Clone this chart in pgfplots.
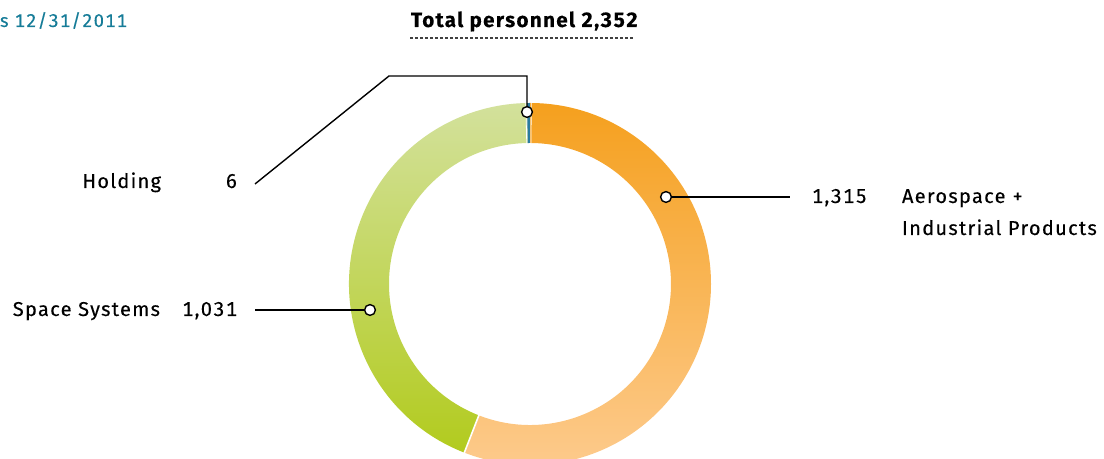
\documentclass[border=0pt]{standalone}
\usepackage{fontspec}
\setmainfont{Fira Sans}[Numbers=Monospaced, LetterSpace=6.5, FakeBold=0.25]
\usepackage{pgfplots}
\usepackage{pgfplotstable}
\pgfplotsset{compat=1.18}
\definecolor{orA}{HTML}{F5A01E}
\definecolor{orB}{HTML}{FDCB8E}
\definecolor{grA}{HTML}{D3E19C}
\definecolor{grB}{HTML}{B2CB1E}
\definecolor{holdC}{HTML}{2A7BA0}
\definecolor{teal}{HTML}{167C98}
\tikzset{lab/.style={inner sep=0pt, outer sep=0pt, font=\fontsize{10}{11}\selectfont}}
\pgfplotstableread{
segment value
Aerospace 1315
Space 1031
Holding 6
}\datatable
\begin{document}
\begin{tikzpicture}
\pgfplotstablegetelem{0}{value}\of\datatable \let\va\pgfplotsretval
\pgfplotstablegetelem{1}{value}\of\datatable \let\vb\pgfplotsretval
\pgfplotstablegetelem{2}{value}\of\datatable \let\vc\pgfplotsretval
\pgfmathsetmacro\tot{\va+\vb+\vc}
\pgfmathsetmacro\aA{90-360*(\va/\tot)}
\pgfmathsetmacro\aB{\aA-360*(\vb/\tot)}
\pgfmathsetmacro\aC{\aB-360*(\vc/\tot)}
\pgfmathsetmacro\sB{\aB+0.4}
\pgfmathsetmacro\sC{\aC-0.4}
\begin{axis}[scale only axis, width=552pt, height=229.5pt,
  xmin=0, xmax=1104, ymin=0, ymax=459, hide axis, clip=true]
\coordinate (C) at (axis cs:530,175);
% Aerospace
\shade[top color=orA, bottom color=orB]
  ([shift={(90:90.5pt)}]C) arc[start angle=90, end angle=\aA, radius=90.5pt]
  -- ([shift={(\aA:70.5pt)}]C) arc[start angle=\aA, end angle=90, radius=70.5pt] -- cycle;
% Space Systems
\shade[top color=grA, bottom color=grB]
  ([shift={(\aA:90.5pt)}]C) arc[start angle=\aA, end angle=\aB, radius=90.5pt]
  -- ([shift={(\aB:70.5pt)}]C) arc[start angle=\aB, end angle=\aA, radius=70.5pt] -- cycle;
% Holding
\fill[holdC]
  ([shift={(\aB:90.5pt)}]C) arc[start angle=\aB, end angle=\aC, radius=90.5pt]
  -- ([shift={(\aC:70.5pt)}]C) arc[start angle=\aC, end angle=\aB, radius=70.5pt] -- cycle;
% separators
\draw[white, line width=0.8pt] ([shift={(\aA:69pt)}]C) -- ([shift={(\aA:92pt)}]C);
\draw[white, line width=0.4pt] ([shift={(\sB:69pt)}]C) -- ([shift={(\sB:92pt)}]C);
\draw[white, line width=0.4pt] ([shift={(\sC:69pt)}]C) -- ([shift={(\sC:92pt)}]C);
% leader lines
\draw[black, line width=0.7pt] (axis cs:666,262) -- (axis cs:790,262);
\draw[black, line width=0.7pt] (axis cs:255,149) -- (axis cs:370,149);
\draw[black, line width=0.7pt] (axis cs:527,347) -- (axis cs:527,383) -- (axis cs:389,383) -- (axis cs:255,275);
\addplot[only marks, mark=*, mark size=2.7pt, mark options={fill=white, draw=black, line width=0.7pt}]
  coordinates {(666,262) (370,149) (527,347)};
% labels
\node[lab, anchor=base west, text=teal, font=\fontsize{9.2}{11}\selectfont] at (axis cs:0,432) {s 12/31/2011};
\node[lab, anchor=base west, font=\fontsize{10.3}{12}\selectfont\bfseries] at (axis cs:411,432) {Total personnel 2,352};
\draw[black!75, line width=0.55pt, dash pattern=on 1.5pt off 1pt] (axis cs:410,421) -- (axis cs:634,421);
\node[lab, anchor=base east] at (axis cs:161,271) {Holding};
\node[lab, anchor=base east] at (axis cs:237,271) {6};
\node[lab, anchor=base east] at (axis cs:160,143) {Space Systems};
\node[lab, anchor=base east] at (axis cs:237,143) {1,031};
\node[lab, anchor=base west] at (axis cs:812,256) {1,315};
\node[lab, anchor=base west] at (axis cs:902,256) {Aerospace +};
\node[lab, anchor=base west] at (axis cs:902,224) {Industrial Products};
\end{axis}
\pgfresetboundingbox
\path[use as bounding box] (0,0) rectangle (552pt,229.5pt);
\end{tikzpicture}
\end{document}
